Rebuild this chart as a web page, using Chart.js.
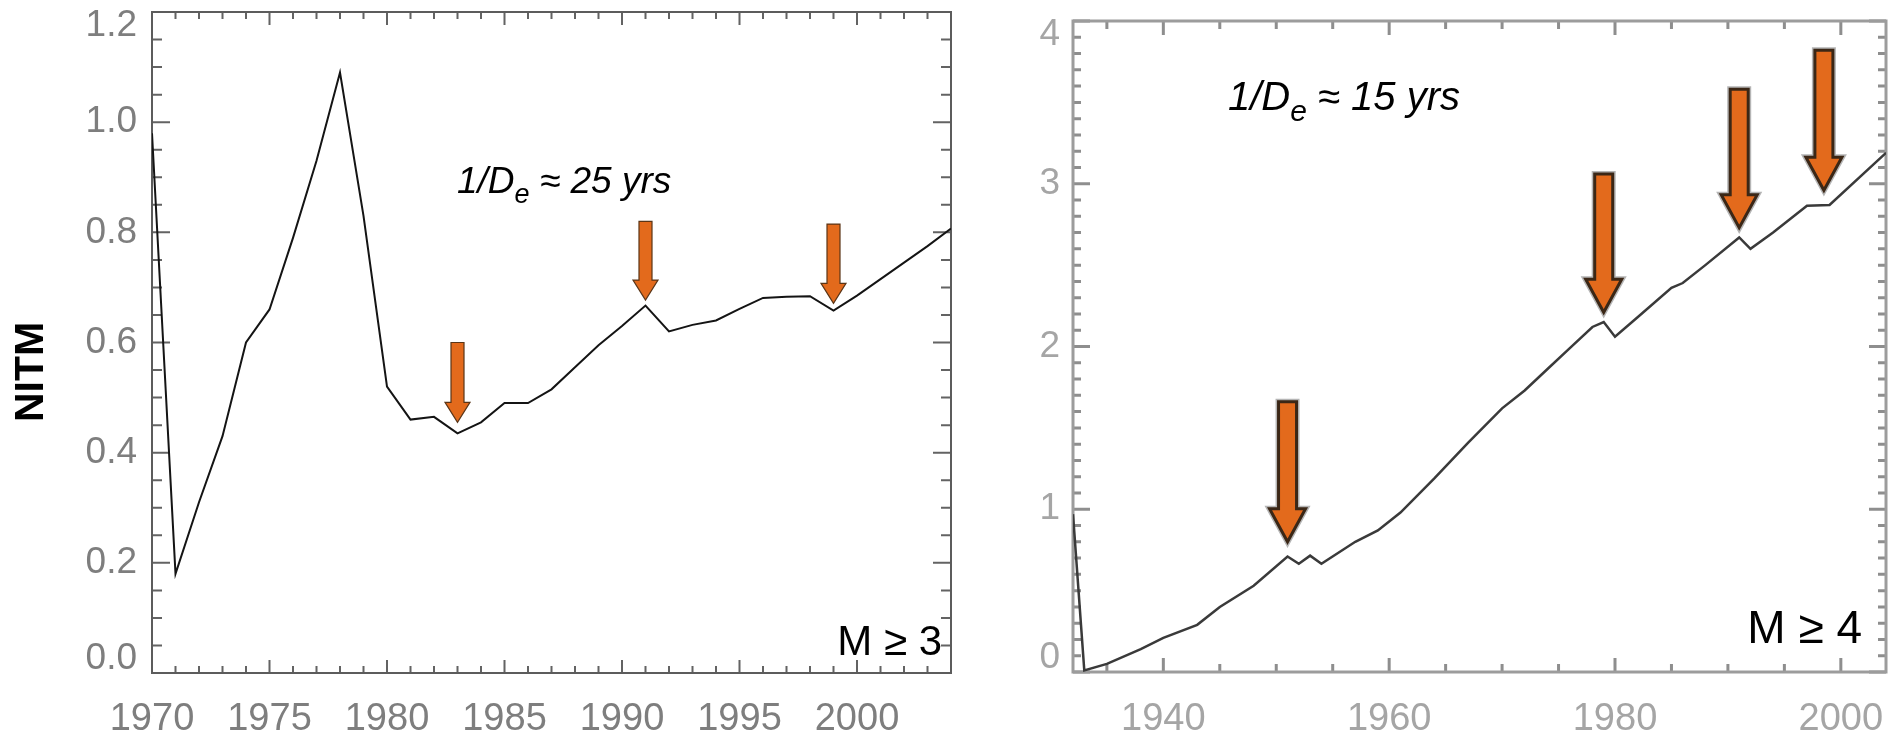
<!DOCTYPE html>
<html>
<head>
<meta charset="utf-8">
<script src="https://cdn.jsdelivr.net/npm/chart.js@4.4.1/dist/chart.umd.min.js"></script>
<style>
  html, body { margin: 0; padding: 0; background: #fff; }
  #wrap { position: relative; width: 1900px; height: 739px; overflow: hidden; }
  #left { position: absolute; left: 0; top: 0; }
  #right { position: absolute; left: 1000px; top: 0; }
</style>
</head>
<body>
<div id="wrap">
  <canvas id="left" width="1000" height="739"></canvas>
  <canvas id="right" width="900" height="739"></canvas>
</div>
<script>
const FONT = "'Liberation Sans', Arial, sans-serif";

// M >= 3 panel, annual NITM
const leftYears = [1970, 1971, 1972, 1973, 1974, 1975, 1976, 1977, 1978, 1979,
  1980, 1981, 1982, 1983, 1984, 1985, 1986, 1987, 1988, 1989,
  1990, 1991, 1992, 1993, 1994, 1995, 1996, 1997, 1998, 1999,
  2000, 2001, 2002, 2003, 2004];
const leftNitm = [0.98, 0.18, 0.31, 0.43, 0.60, 0.66, 0.79, 0.93, 1.09, 0.83,
  0.52, 0.46, 0.465, 0.435, 0.455, 0.49, 0.49, 0.515, 0.555, 0.595,
  0.63, 0.667, 0.62, 0.632, 0.64, 0.661, 0.681, 0.683, 0.684, 0.658,
  0.685, 0.715, 0.745, 0.775, 0.807];
const leftXTicks = [1970, 1975, 1980, 1985, 1990, 1995, 2000];
const leftYTicks = [0, 0.2, 0.4, 0.6, 0.8, 1.0, 1.2];
const leftArrowYears = [1983, 1991, 1999];
const leftArrowTops = [0.60, 0.82, 0.815];
const leftArrowTips = [0.455, 0.677, 0.671];

// M >= 4 panel
const rightYears = [1932, 1933, 1935, 1938, 1940, 1943, 1945, 1948, 1951, 1952,
  1953, 1954, 1957, 1959, 1961, 1964, 1967, 1970, 1972, 1974,
  1976, 1978, 1979, 1980, 1982, 1985, 1986, 1988, 1991, 1992,
  1994, 1997, 1999, 2004];
const rightNitm = [0.97, 0.01, 0.05, 0.14, 0.21, 0.29, 0.40, 0.53, 0.71, 0.665,
  0.715, 0.665, 0.80, 0.87, 0.98, 1.19, 1.41, 1.62, 1.73, 1.86,
  1.99, 2.12, 2.15, 2.06, 2.18, 2.36, 2.39, 2.50, 2.67, 2.60,
  2.70, 2.865, 2.87, 3.19];
const rightXTicks = [1940, 1960, 1980, 2000];
const rightYTicks = [0, 1, 2, 3, 4];
const rightArrowYears = [1951, 1979, 1991, 1998.5];
const rightArrowTops = [1.66, 3.06, 3.58, 3.82];
const rightArrowTips = [0.80, 2.21, 2.73, 2.96];

function minorTicks(from, to, step, majorEvery) {
  const out = [];
  const n = Math.round((to - from) / step);
  for (let i = 0; i <= n; i++) {
    out.push({ v: from + i * step, major: (i % majorEvery) === 0 });
  }
  return out;
}

// first and last y labels sit inside the frame: pad them with an empty line
function insetLabel(text, i, n) {
  if (i === n - 1) return ['', text];
  if (i === 0) return [text, ''];
  return text;
}

function drawArrow(ctx, x, yTop, yTip, s) {
  const hw = s.shaft / 2, hh = s.head / 2;
  ctx.beginPath();
  ctx.moveTo(x - hw, yTop);
  ctx.lineTo(x + hw, yTop);
  ctx.lineTo(x + hw, yTip - s.headLen);
  ctx.lineTo(x + hh, yTip - s.headLen);
  ctx.lineTo(x, yTip);
  ctx.lineTo(x - hh, yTip - s.headLen);
  ctx.lineTo(x - hw, yTip - s.headLen);
  ctx.closePath();
  ctx.lineJoin = 'miter';
  if (s.halo) {
    ctx.strokeStyle = s.halo;
    ctx.lineWidth = s.lineWidth + 3;
    ctx.stroke();
  }
  ctx.fillStyle = '#e36a1c';
  ctx.fill();
  ctx.strokeStyle = s.stroke;
  ctx.lineWidth = s.lineWidth;
  ctx.stroke();
}

// "1/De ≈ N yrs" with subscript e
function drawDecay(ctx, x, y, size, rest) {
  ctx.fillStyle = '#000';
  ctx.textAlign = 'left';
  ctx.textBaseline = 'alphabetic';
  ctx.font = `italic ${size}px ${FONT}`;
  ctx.fillText('1/D', x, y);
  let w = ctx.measureText('1/D').width;
  const sub = Math.round(size * 0.74);
  ctx.font = `italic ${sub}px ${FONT}`;
  ctx.fillText('e', x + w, y + size * 0.27);
  w += ctx.measureText('e').width;
  ctx.font = `italic ${size}px ${FONT}`;
  ctx.fillText(rest, x + w, y);
}

function makeDecor(cfg) {
  return {
    id: 'decor',
    beforeDatasetsDraw(chart) {
      const { ctx, chartArea: a, scales: { x, y } } = chart;
      ctx.save();
      ctx.strokeStyle = cfg.tickColor;
      ctx.lineWidth = cfg.tickWidth;
      ctx.beginPath();
      cfg.xTicks.forEach(t => {
        const px = x.getPixelForValue(t.v);
        const len = t.major ? cfg.xMajorLen : cfg.xMinorLen;
        ctx.moveTo(px, a.bottom); ctx.lineTo(px, a.bottom - len);
        ctx.moveTo(px, a.top); ctx.lineTo(px, a.top + len);
      });
      cfg.yTicks.forEach(t => {
        const py = y.getPixelForValue(t.v);
        const len = t.major ? cfg.yMajorLen : cfg.yMinorLen;
        ctx.moveTo(a.left, py); ctx.lineTo(a.left + len, py);
        ctx.moveTo(a.right, py); ctx.lineTo(a.right - len, py);
      });
      ctx.stroke();
      ctx.strokeStyle = cfg.frameColor;
      ctx.lineWidth = cfg.frameWidth;
      ctx.strokeRect(a.left, a.top, a.right - a.left, a.bottom - a.top);
      ctx.restore();
    },
    afterDatasetsDraw(chart) {
      const { ctx, scales: { x, y } } = chart;
      ctx.save();
      cfg.arrows.years.forEach((yr, i) => {
        drawArrow(ctx, x.getPixelForValue(yr),
          y.getPixelForValue(cfg.arrows.tops[i]),
          y.getPixelForValue(cfg.arrows.tips[i]), cfg.arrowStyle);
      });
      drawDecay(ctx, cfg.decay.x, cfg.decay.y, cfg.decay.size, cfg.decay.text);
      ctx.font = `${cfg.mag.size}px ${FONT}`;
      ctx.fillStyle = '#000';
      ctx.textAlign = 'right';
      ctx.textBaseline = 'alphabetic';
      ctx.fillText(cfg.mag.text, cfg.mag.x, cfg.mag.y);
      if (cfg.yTitle) {
        ctx.translate(cfg.yTitle.x, cfg.yTitle.y);
        ctx.rotate(-Math.PI / 2);
        ctx.font = `bold ${cfg.yTitle.size}px ${FONT}`;
        ctx.textAlign = 'center';
        ctx.textBaseline = 'middle';
        ctx.fillText(cfg.yTitle.text, 0, 0);
      }
      ctx.restore();
    }
  };
}

function panelOptions(p) {
  return {
    responsive: false,
    animation: false,
    events: [],
    layout: { padding: { top: p.top, right: p.right, left: 0, bottom: 0 } },
    plugins: { legend: { display: false }, tooltip: { enabled: false } },
    scales: {
      x: {
        type: 'linear',
        min: p.xMin,
        max: p.xMax,
        afterBuildTicks: s => { s.ticks = p.xTicks.map(v => ({ value: v })); },
        afterFit: s => {
          s.height = p.xHeight;
          s.paddingLeft = 0; s.paddingRight = 0;
        },
        grid: { display: false, drawTicks: false },
        border: { display: false },
        ticks: {
          autoSkip: false, maxRotation: 0, padding: p.xPad,
          color: p.labelColor,
          font: { family: FONT, size: 38 },
          callback: v => String(v)
        }
      },
      y: {
        type: 'linear',
        min: p.yMin,
        max: p.yMax,
        afterBuildTicks: s => { s.ticks = p.yTicks.map(v => ({ value: v })); },
        afterFit: s => {
          s.width = p.yWidth;
          s.paddingTop = 0; s.paddingBottom = 0;
        },
        grid: { display: false, drawTicks: false },
        border: { display: false },
        ticks: {
          padding: p.yPad,
          color: p.labelColor,
          font: { family: FONT, size: 37, lineHeight: '28px' },
          callback: (v, i, ticks) => insetLabel(p.yFormat(v), i, ticks.length)
        }
      }
    }
  };
}

new Chart(document.getElementById('left'), {
  type: 'line',
  data: {
    datasets: [{
      data: leftYears.map((yr, i) => ({ x: yr, y: leftNitm[i] })),
      borderColor: '#141414',
      borderWidth: 2,
      pointRadius: 0,
      tension: 0
    }]
  },
  options: panelOptions({
    top: 12, right: 49, xMin: 1970, xMax: 2004, yMin: 0, yMax: 1.2,
    xTicks: leftXTicks, yTicks: leftYTicks, xHeight: 66, yWidth: 152,
    xPad: 24, yPad: 15, labelColor: '#7e7e7e',
    yFormat: v => v.toFixed(1)
  }),
  plugins: [makeDecor({
    tickColor: '#636363', tickWidth: 2, frameColor: '#5c5c5c', frameWidth: 2,
    xTicks: minorTicks(1970, 2004, 1, 5), yTicks: minorTicks(0, 1.2, 0.05, 4),
    xMajorLen: 13, xMinorLen: 7, yMajorLen: 18, yMinorLen: 10,
    arrows: { years: leftArrowYears, tops: leftArrowTops, tips: leftArrowTips },
    arrowStyle: { shaft: 13, head: 25, headLen: 20, stroke: '#5a3517', lineWidth: 1.2 },
    decay: { x: 457, y: 193, size: 37, text: ' \u2248 25 yrs' },
    mag: { x: 942, y: 655, size: 42, text: 'M \u2265 3' },
    yTitle: { x: 32, y: 372, size: 41, text: 'NITM' }
  })]
});

new Chart(document.getElementById('right'), {
  type: 'line',
  data: {
    datasets: [{
      data: rightYears.map((yr, i) => ({ x: yr, y: rightNitm[i] })),
      borderColor: '#3a3a3a',
      borderWidth: 2.5,
      pointRadius: 0,
      tension: 0
    }]
  },
  options: panelOptions({
    top: 21, right: 14, xMin: 1932, xMax: 2004, yMin: 0, yMax: 4,
    xTicks: rightXTicks, yTicks: rightYTicks, xHeight: 67, yWidth: 73,
    xPad: 25, yPad: 13, labelColor: '#a5a5a5',
    yFormat: v => String(v)
  }),
  plugins: [makeDecor({
    tickColor: '#8e8e8e', tickWidth: 3, frameColor: '#9c9c9c', frameWidth: 3,
    xTicks: minorTicks(1935, 2000, 5, 4).map(t => ({ v: t.v, major: t.v % 20 === 0 })),
    yTicks: minorTicks(0, 4, 0.1, 10),
    xMajorLen: 14, xMinorLen: 8, yMajorLen: 17, yMinorLen: 8,
    arrows: { years: rightArrowYears, tops: rightArrowTops, tips: rightArrowTips },
    arrowStyle: { shaft: 18, head: 36, headLen: 33, stroke: '#3b2716', lineWidth: 3, halo: '#b5b5b5' },
    decay: { x: 228, y: 110, size: 40, text: ' \u2248 15 yrs' },
    mag: { x: 862, y: 643, size: 46, text: 'M \u2265 4' }
  })]
});
</script>
</body>
</html>
